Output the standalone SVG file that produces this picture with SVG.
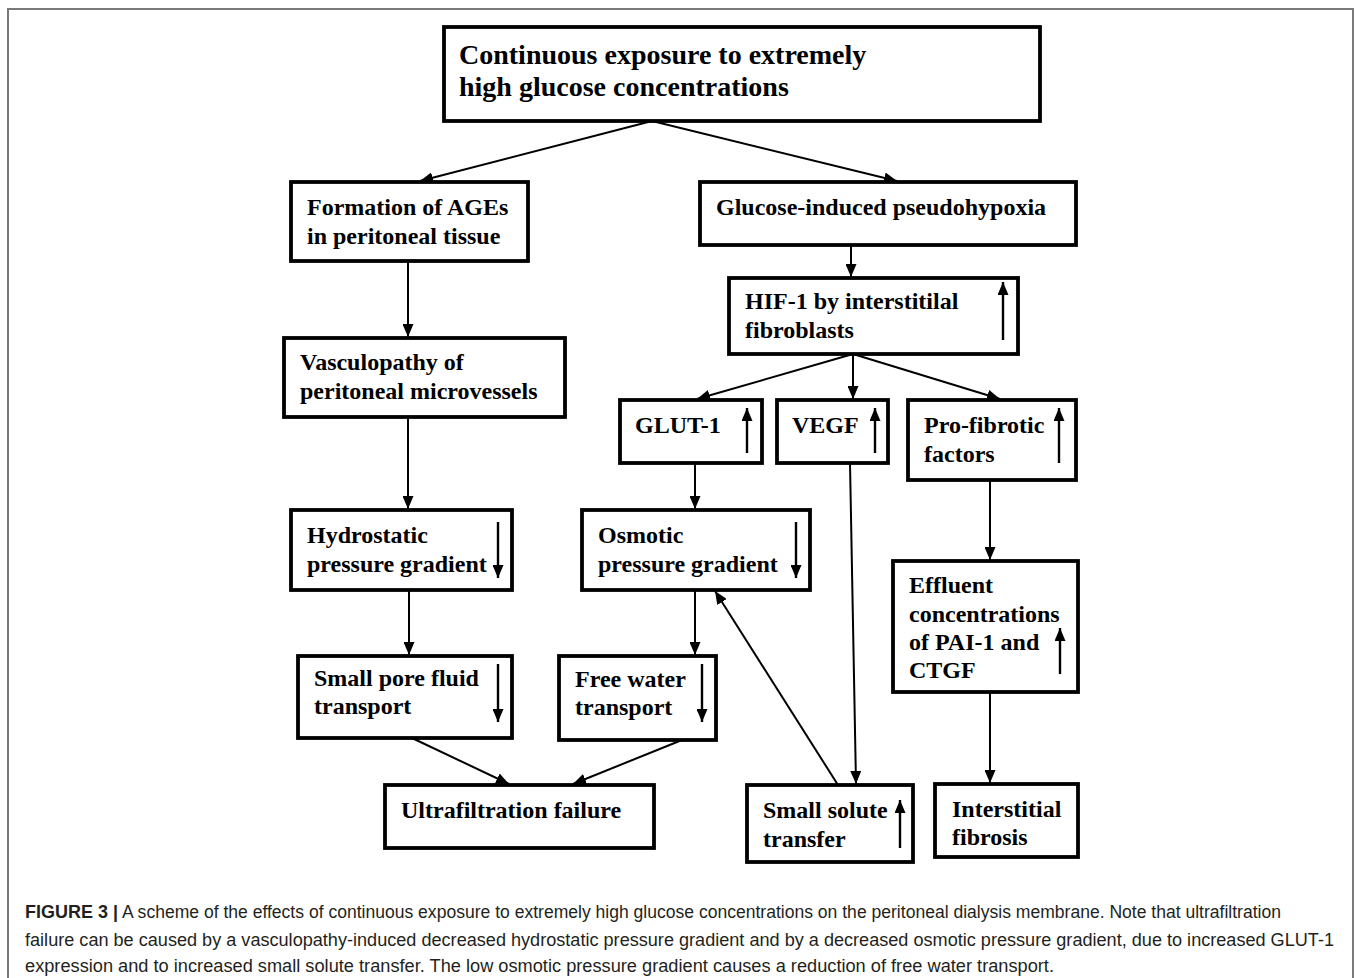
<svg xmlns="http://www.w3.org/2000/svg" width="1355" height="978" viewBox="0 0 1355 978">
<style>
.box{fill:#fff;stroke:#000;stroke-width:3.8}
.t{font-family:"Liberation Serif","Times New Roman",serif;font-weight:bold;font-size:24px;fill:#000}
.tt{font-size:28px}
.c{stroke:#000;stroke-width:2;fill:none}
.ci{stroke:#000;stroke-width:2.4;fill:none}
.cap{font-family:"Liberation Sans",Arial,sans-serif;font-size:17.5px;fill:#231f20}
.capb{font-weight:bold}
</style>
<defs>
<marker id="ah" markerUnits="userSpaceOnUse" markerWidth="14" markerHeight="11" refX="13" refY="5.5" orient="auto">
<path d="M0,0 L13,5.5 L0,11 Z" fill="#000"/>
</marker>
</defs>
<rect width="1355" height="978" fill="#fff"/>
<path d="M8,978 V9 H1353 V978" fill="none" stroke="#7a7a7a" stroke-width="2"/>

<g id="connectors">
<line class="c" x1="652" y1="121" x2="420" y2="181" marker-end="url(#ah)"/>
<line class="c" x1="652" y1="121" x2="897" y2="181" marker-end="url(#ah)"/>
<line class="c" x1="851" y1="245" x2="851" y2="277" marker-end="url(#ah)"/>
<line class="c" x1="853" y1="354" x2="697" y2="399" marker-end="url(#ah)"/>
<line class="c" x1="853" y1="354" x2="853" y2="399" marker-end="url(#ah)"/>
<line class="c" x1="853" y1="354" x2="1000" y2="399" marker-end="url(#ah)"/>
<line class="c" x1="408" y1="261" x2="408" y2="337" marker-end="url(#ah)"/>
<line class="c" x1="408" y1="417" x2="408" y2="509" marker-end="url(#ah)"/>
<line class="c" x1="695" y1="463" x2="695" y2="509" marker-end="url(#ah)"/>
<line class="c" x1="850" y1="463" x2="856" y2="784" marker-end="url(#ah)"/>
<line class="c" x1="990" y1="480" x2="990" y2="560" marker-end="url(#ah)"/>
<line class="c" x1="409" y1="590" x2="409" y2="655" marker-end="url(#ah)"/>
<line class="c" x1="695" y1="590" x2="695" y2="655" marker-end="url(#ah)"/>
<line class="c" x1="838" y1="785" x2="715" y2="591" marker-end="url(#ah)"/>
<line class="c" x1="412" y1="738" x2="509" y2="784" marker-end="url(#ah)"/>
<line class="c" x1="682" y1="740" x2="573" y2="784" marker-end="url(#ah)"/>
<line class="c" x1="990" y1="692" x2="990" y2="783" marker-end="url(#ah)"/>
</g>

<g id="n-top">
<rect class="box" x="444" y="27" width="596" height="94"/>
<text class="t tt" x="459" y="64">Continuous exposure to extremely</text>
<text class="t tt" x="459" y="96">high glucose concentrations</text>
</g>
<g id="n-ages">
<rect class="box" x="291" y="182" width="237" height="79"/>
<text class="t" x="307" y="215">Formation of AGEs</text>
<text class="t" x="307" y="244">in peritoneal tissue</text>
</g>
<g id="n-pseudo">
<rect class="box" x="700" y="182" width="376" height="63"/>
<text class="t" x="716" y="215">Glucose-induced pseudohypoxia</text>
</g>
<g id="n-hif">
<rect class="box" x="729" y="278" width="289" height="76"/>
<text class="t" x="745" y="309">HIF-1 by interstitilal</text>
<text class="t" x="745" y="338">fibroblasts</text>
<line class="ci" x1="1003" y1="340" x2="1003" y2="282" marker-end="url(#ah)"/>
</g>
<g id="n-vasc">
<rect class="box" x="284" y="338" width="281" height="79"/>
<text class="t" x="300" y="370">Vasculopathy of</text>
<text class="t" x="300" y="399">peritoneal microvessels</text>
</g>
<g id="n-glut">
<rect class="box" x="620" y="400" width="142" height="63"/>
<text class="t" x="635" y="433">GLUT-1</text>
<line class="ci" x1="747" y1="453" x2="747" y2="408" marker-end="url(#ah)"/>
</g>
<g id="n-vegf">
<rect class="box" x="777" y="400" width="111" height="63"/>
<text class="t" x="792" y="433">VEGF</text>
<line class="ci" x1="875" y1="453" x2="875" y2="408" marker-end="url(#ah)"/>
</g>
<g id="n-profib">
<rect class="box" x="908" y="400" width="168" height="80"/>
<text class="t" x="924" y="433">Pro-fibrotic</text>
<text class="t" x="924" y="462">factors</text>
<line class="ci" x1="1059" y1="463" x2="1059" y2="408" marker-end="url(#ah)"/>
</g>
<g id="n-hydro">
<rect class="box" x="291" y="510" width="221" height="80"/>
<text class="t" x="307" y="543">Hydrostatic</text>
<text class="t" x="307" y="572">pressure gradient</text>
<line class="ci" x1="498" y1="522" x2="498" y2="578" marker-end="url(#ah)"/>
</g>
<g id="n-osmo">
<rect class="box" x="582" y="510" width="228" height="80"/>
<text class="t" x="598" y="543">Osmotic</text>
<text class="t" x="598" y="572">pressure gradient</text>
<line class="ci" x1="796" y1="522" x2="796" y2="578" marker-end="url(#ah)"/>
</g>
<g id="n-effluent">
<rect class="box" x="893" y="561" width="185" height="131"/>
<text class="t" x="909" y="593">Effluent</text>
<text class="t" x="909" y="622">concentrations</text>
<text class="t" x="909" y="650">of PAI-1 and</text>
<text class="t" x="909" y="678">CTGF</text>
<line class="ci" x1="1060" y1="674" x2="1060" y2="628" marker-end="url(#ah)"/>
</g>
<g id="n-smallpore">
<rect class="box" x="298" y="656" width="214" height="82"/>
<text class="t" x="314" y="686">Small pore fluid</text>
<text class="t" x="314" y="714">transport</text>
<line class="ci" x1="498" y1="664" x2="498" y2="722" marker-end="url(#ah)"/>
</g>
<g id="n-freewater">
<rect class="box" x="559" y="656" width="157" height="84"/>
<text class="t" x="575" y="687">Free water</text>
<text class="t" x="575" y="715">transport</text>
<line class="ci" x1="702" y1="664" x2="702" y2="722" marker-end="url(#ah)"/>
</g>
<g id="n-uf">
<rect class="box" x="385" y="785" width="269" height="63"/>
<text class="t" x="401" y="818">Ultrafiltration failure</text>
</g>
<g id="n-solute">
<rect class="box" x="747" y="785" width="166" height="77"/>
<text class="t" x="763" y="818">Small solute</text>
<text class="t" x="763" y="847">transfer</text>
<line class="ci" x1="900" y1="848" x2="900" y2="800" marker-end="url(#ah)"/>
</g>
<g id="n-fibrosis">
<rect class="box" x="935" y="784" width="143" height="73"/>
<text class="t" x="952" y="817">Interstitial</text>
<text class="t" x="952" y="845">fibrosis</text>
</g>

<g id="caption">
<text class="cap capb" x="25" y="918" textLength="93" lengthAdjust="spacingAndGlyphs">FIGURE 3 |</text>
<text class="cap" x="122" y="918" textLength="1159" lengthAdjust="spacingAndGlyphs">A scheme of the effects of continuous exposure to extremely high glucose concentrations on the peritoneal dialysis membrane. Note that ultrafiltration</text>
<text class="cap" x="25" y="946" textLength="1309" lengthAdjust="spacingAndGlyphs">failure can be caused by a vasculopathy-induced decreased hydrostatic pressure gradient and by a decreased osmotic pressure gradient, due to increased GLUT-1</text>
<text class="cap" x="25" y="972" textLength="1029" lengthAdjust="spacingAndGlyphs">expression and to increased small solute transfer. The low osmotic pressure gradient causes a reduction of free water transport.</text>
</g>
</svg>
